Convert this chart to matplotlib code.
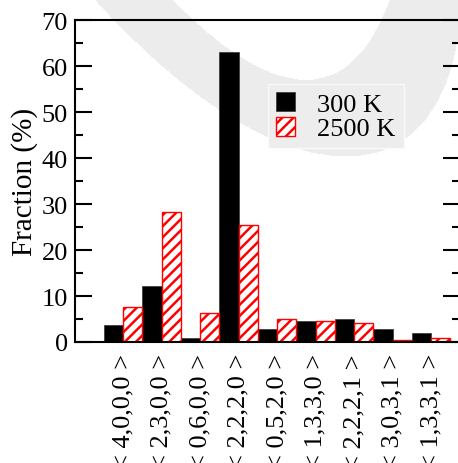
import numpy as np
import matplotlib
matplotlib.use("Agg")
import matplotlib.pyplot as plt
from matplotlib.ticker import MultipleLocator

categories = ["< 4,0,0,0 >", "< 2,3,0,0 >", "< 0,6,0,0 >", "< 2,2,2,0 >", "< 0,5,2,0 >",
              "< 1,3,3,0 >", "< 2,2,2,1 >", "< 3,0,3,1 >", "< 1,3,3,1 >"]
frac_300 = [3.7, 12.1, 0.9, 63.1, 2.8, 4.6, 5.0, 2.8, 1.9]
frac_2500 = [7.6, 28.2, 6.2, 25.4, 4.9, 4.5, 4.1, 0.5, 0.9]
series_labels = ["300 K", "2500 K"]

plt.rcParams['font.family'] = ['Liberation Serif', 'DejaVu Serif']
plt.rcParams['hatch.linewidth'] = 1.8
plt.rcParams['hatch.color'] = 'red'

W, H = 458, 464
fig = plt.figure(figsize=(W / 100, H / 100), dpi=100)

# ---- background watermark ring (decoration, pixel space) ----
outer_edge = np.array([(93, 0), (147, 50), (220, 110), (260, 137), (318, 157),
                       (378, 140), (438, 110), (452, 70), (458, 30), (460, 0)], float)
inner_edge = np.array([(170, 0), (213, 37), (260, 72), (300, 80), (330, 76),
                       (365, 50), (383, 22), (390, 0)], float)

def fit_conic(p):
    x, y = p[:, 0] / 100.0, p[:, 1] / 100.0
    A = np.column_stack([x * x, x * y, y * y, x, y])
    c, *_ = np.linalg.lstsq(A, np.ones_like(x), rcond=None)
    return c

def conic_val(c, X, Y):
    X, Y = X / 100.0, Y / 100.0
    return c[0] * X * X + c[1] * X * Y + c[2] * Y * Y + c[3] * X + c[4] * Y - 1

co, ci = fit_conic(outer_edge), fit_conic(inner_edge)
gx, gy = np.meshgrid(np.linspace(0, W, 700), np.linspace(0, H, 700))
fo = conic_val(co, gx, gy)
fi = conic_val(ci, gx, gy)
so = -np.sign(conic_val(co, 290.0, 40.0))
si = -np.sign(conic_val(ci, 290.0, 20.0))
ring = ((so * fo) < 0) & ((si * fi) > 0)

bg = fig.add_axes([0, 0, 1, 1], zorder=-1)
bg.set_xlim(0, W)
bg.set_ylim(H, 0)
bg.axis('off')
bg.contourf(gx, gy, ring.astype(float), levels=[0.5, 1.5], colors=['#ececec'])

# ---- main chart ----
ax = fig.add_axes([75 / W, 1 - 343 / H, 385 / W, 322 / H], zorder=1)
ax.set_facecolor('none')

x = np.arange(len(categories)) + 1.25
w = 0.5
ax.bar(x - w / 2, frac_300, width=w, color='black', edgecolor='#333333', linewidth=0.5,
       label=series_labels[0], zorder=2)
ax.bar(x + w / 2, frac_2500, width=w, color='white', edgecolor='red', hatch='///',
       linewidth=1.0, label=series_labels[1], zorder=2)

ax.set_xlim(0, 10)
ax.set_ylim(0, 70)
ax.set_xticks(x)
ax.set_xticklabels(categories, rotation=90, fontsize=19)
ax.tick_params(axis='x', length=0, pad=8)
ax.yaxis.set_major_locator(MultipleLocator(10))
ax.yaxis.set_minor_locator(MultipleLocator(5))
ax.tick_params(axis='y', which='major', direction='in', length=12, width=1.5,
               labelsize=19, right=True, pad=5)
ax.tick_params(axis='y', which='minor', direction='in', length=6, width=1.5, right=True)
for s in ax.spines.values():
    s.set_linewidth(1.5)
ax.set_ylabel("Fraction (%)", fontsize=21, labelpad=3)

leg = ax.legend(loc='upper left', bbox_to_anchor=((268 - 75) / 385, (343 - 85) / 322),
                fontsize=19, frameon=True, fancybox=False, handlelength=0.72,
                handleheight=0.72, handletextpad=0.85, labelspacing=0.05,
                borderpad=0.3, borderaxespad=0)
leg.get_frame().set_facecolor('#ededed')
leg.get_frame().set_edgecolor('#fafafa')
leg.get_frame().set_alpha(1)

fig.savefig("out.png", dpi=100)
